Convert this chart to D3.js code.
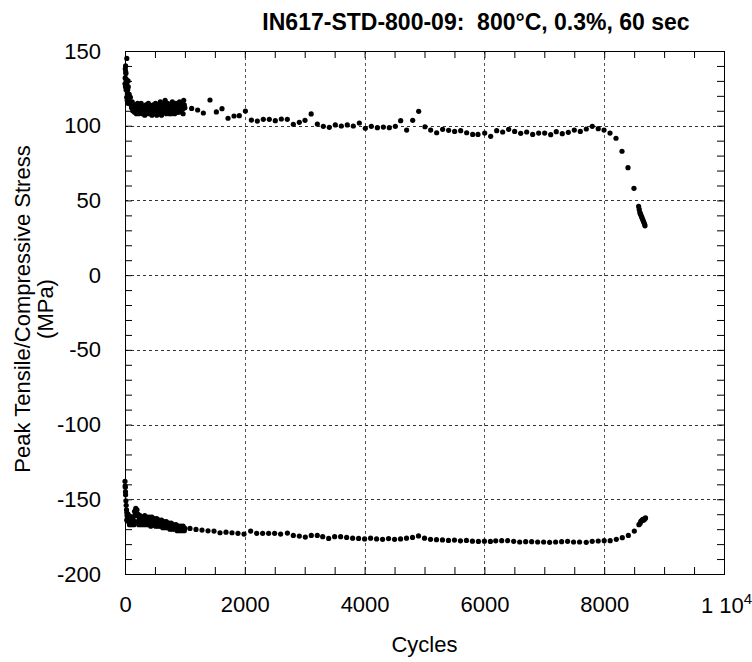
<!DOCTYPE html>
<html>
<head>
<meta charset="utf-8">
<script src="https://cdn.jsdelivr.net/npm/d3@7"></script>
<style>
  body { margin: 0; background: #fff; }
  svg text { font-family: "Liberation Sans", Arial, sans-serif; }
</style>
</head>
<body>
<div id="vis"></div>
<script>
const WIDTH = 752;
const HEIGHT = 662;
const MARGINS = {left: 125, right: 28, top: 51, bottom: 88};
const FONT = 22;

// peak tensile stress, [cycle, MPa]
const tensile = [
  [0,128],[3,132],[5,138],[8,126],[10,140],[12,136],[15,135],[18,124],[20,130],[22,131],
  [25,128],[28,119],[30,145],[33,127],[35,125],[38,117],[40,122],[42,121],[45,124],[48,115],
  [50,120],[52,130],[55,126],[60,118],[70,121],[80,116],[90,119],[100,114],[110,112],[120,116],
  [130,110],[140,113],[150,111],[160,109],[170,114],[180,112],[190,108],[200,112],[210,115],
  [220,110],[230,108],[240,113],[250,111],[260,109],[270,115],[280,111],[290,108],[300,113],
  [310,112],[320,110],[330,107],[340,112],[350,114],[360,108],[370,109],[380,111],[390,115],
  [400,113],[410,108],[420,110],[430,112],[440,111],[450,107],[460,109],[470,114],[480,111],
  [490,109],[500,112],[510,115],[520,110],[530,107],[540,108],[550,113],[560,111],[570,109],
  [580,114],[590,116],[600,111],[610,107],[620,109],[630,114],[640,112],[650,110],[660,115],
  [670,117],[680,110],[690,108],[700,112],[710,115],[720,113],[730,110],[740,108],[750,114],
  [760,111],[770,108],[780,113],[790,116],[800,112],[810,113],[820,110],[830,108],[840,113],
  [850,115],[860,111],[870,109],[880,114],[890,112],[900,109],[910,116],[920,112],[930,110],
  [940,113],[950,115],[960,111],[970,108],[980,117],[990,114],[1000,112],
  [1113,111.6],[1213,110.5],[1308,108.5],[1419,117.2],[1525,109.2],[1619,111.4],[1720,105],
  [1820,106.5],[1908,106.7],[2010,109.8],[2110,103.8],[2209,103.1],[2309,104.3],[2409,104.3],
  [2509,103.4],[2610,104.5],[2710,104.3],[2810,100.9],[2910,102.3],[3005,103.6],[3108,107.9],
  [3211,101.1],[3311,99.6],[3411,98.9],[3511,100.5],[3611,99.8],[3711,100.5],[3811,99.8],
  [3912,101.8],[4012,98.3],[4112,99.6],[4213,98.7],[4313,99.1],[4413,98.7],[4513,99.6],
  [4602,103.4],[4702,97.1],[4803,103.6],[4903,109.6],[5008,99.3],[5103,97.1],[5203,95.3],
  [5303,97.6],[5403,96.9],[5503,96.2],[5604,96.7],[5704,95.3],[5804,94.2],[5893,94.2],
  [6005,95.1],[6105,92.9],[6205,96.7],[6305,95.8],[6405,97.6],[6505,96.2],[6606,94.9],
  [6706,95.8],[6806,94.2],[6906,95.1],[7006,95.1],[7107,94],[7200,96],[7300,94.7],[7401,95.6],
  [7501,97.1],[7601,96.2],[7701,97.8],[7801,99.6],[7901,98],[7997,97.1],[8097,95.1],[8197,91.6],
  [8297,82.9],[8397,71.9],[8497,58.1],
  [8575,46],[8585,44],[8595,42],[8605,41],[8615,40],[8625,39],[8635,38],[8645,37],[8655,36],
  [8665,35],[8675,34],[8681,33]
];

// peak compressive stress, [cycle, MPa]
const compressive = [
  [0,-138],[3,-141],[5,-142],[8,-145],[10,-147],[15,-151],[20,-154],[25,-157],[30,-159],[30,-164],
  [35,-161],[40,-163],[45,-160],[50,-164],[50,-160],[60,-165],[60,-161],[70,-162],[75,-167],
  [80,-166],[90,-163],[100,-165],[110,-167],[120,-162],[130,-166],[140,-164],[150,-167],[160,-158],
  [170,-160],[180,-156],[190,-161],[200,-157],[210,-165],[220,-160],[230,-167],[240,-163],
  [250,-161],[260,-164],[270,-167],[280,-162],[290,-166],[300,-165],[310,-167],[320,-163],
  [330,-161],[340,-166],[350,-167],[360,-164],[370,-162],[380,-165],[390,-167],[400,-163],
  [410,-162],[420,-166],[430,-168],[440,-164],[450,-162],[460,-165],[470,-167],[480,-166],
  [490,-163],[500,-164],[510,-168],[520,-166],[530,-163],[540,-165],[550,-168],[560,-167],
  [570,-164],[580,-165],[590,-168],[600,-166],[610,-164],[620,-167],[630,-169],[640,-166],
  [650,-165],[660,-167],[670,-169],[680,-166],[690,-165],[700,-168],[710,-169],[720,-167],
  [730,-166],[740,-168],[750,-170],[760,-167],[770,-166],[780,-168],[790,-170],[800,-168],
  [810,-167],[820,-169],[830,-170],[840,-168],[850,-167],[860,-169],[870,-171],[880,-168],
  [890,-168],[900,-169],[910,-171],[920,-169],[930,-168],[940,-170],[950,-171],[960,-169],
  [970,-168],[980,-170],[990,-171],[1000,-169.5],
  [1085,-169.5],[1185,-170.2],[1285,-170.6],[1386,-171.1],[1486,-171.3],[1586,-172.4],[1686,-172],
  [1786,-172.4],[1886,-172.8],[1987,-173.3],[2098,-171.3],[2198,-172.8],[2298,-172.8],[2398,-172.8],
  [2498,-172.8],[2598,-173.3],[2711,-172.6],[2810,-174.2],[2910,-174.6],[3010,-175.3],[3110,-174.2],
  [3210,-174.2],[3300,-175],[3400,-176.2],[3500,-175],[3600,-175],[3700,-175.5],[3800,-176],
  [3900,-176.2],[4000,-176.5],[4100,-176],[4200,-176.5],[4300,-176.8],[4400,-176.3],[4500,-176.8],
  [4600,-176.5],[4700,-176],[4800,-175.5],[4900,-174.5],[5000,-176],[5100,-176.8],[5200,-177],
  [5300,-177.2],[5400,-177.5],[5500,-177.3],[5600,-177.8],[5700,-177.5],[5800,-178],[5900,-178.2],
  [6000,-178],[6100,-178.2],[6189,-177.8],[6289,-177.7],[6389,-177.7],[6489,-178.1],[6589,-178.6],
  [6689,-178.4],[6789,-178.4],[6889,-178.6],[6989,-178.6],[7089,-178.8],[7189,-178.6],[7289,-178.4],
  [7389,-178.1],[7489,-178.6],[7589,-178.6],[7700,-178.8],[7800,-178.1],[7900,-177.9],[8000,-177.7],
  [8100,-177.7],[8202,-176.8],[8302,-175.7],[8403,-174.2],[8503,-171.3],
  [8580,-167],[8598,-166.2],[8610,-165],[8620,-164.5],[8636,-164],[8645,-163.5],[8655,-164],
  [8670,-163.5],[8680,-163],[8690,-162.5]
];

const xMajor = [0, 2000, 4000, 6000, 8000, 10000];
const yMajor = [150, 100, 50, 0, -50, -100, -150, -200];
const xMinor = d3.range(0, 10001, 500);
const yMinor = d3.range(-200, 151, 10);

const svg = d3.select("#vis")
  .append("svg")
    .attr("width", WIDTH)
    .attr("height", HEIGHT);

svg.append("rect").attr("width", WIDTH).attr("height", HEIGHT).attr("fill", "#fff");

const x = d3.scaleLinear().domain([0, 10000]).range([MARGINS.left, WIDTH - MARGINS.right]);
const y = d3.scaleLinear().domain([-200, 150]).range([HEIGHT - MARGINS.bottom, MARGINS.top]);

const plotW = x(10000) - x(0);
const plotH = y(-200) - y(150);

// dashed grid at the major ticks
svg.append("g").selectAll("line")
  .data(xMajor.slice(1, -1))
  .join("line")
    .attr("x1", d => Math.round(x(d)) + 0.5).attr("x2", d => Math.round(x(d)) + 0.5)
    .attr("y1", y(150)).attr("y2", y(-200))
    .attr("stroke", "#555").attr("stroke-dasharray", "3,3");
svg.append("g").selectAll("line")
  .data(yMajor.slice(1, -1))
  .join("line")
    .attr("y1", d => Math.round(y(d)) + 0.5).attr("y2", d => Math.round(y(d)) + 0.5)
    .attr("x1", x(0)).attr("x2", x(10000))
    .attr("stroke", "#333").attr("stroke-dasharray", "3,3");

// ticks pointing inward on all four sides
const tickLen = 7;
function noLabels(g) { g.selectAll("text").remove(); g.select(".domain").remove(); }

svg.append("g").attr("transform", `translate(0,${y(-200)})`)
  .call(d3.axisBottom(x).tickValues(xMinor).tickSize(-tickLen)).call(noLabels);
svg.append("g").attr("transform", `translate(0,${y(150)})`)
  .call(d3.axisTop(x).tickValues(xMinor).tickSize(-tickLen)).call(noLabels);
svg.append("g").attr("transform", `translate(${x(0)},0)`)
  .call(d3.axisLeft(y).tickValues(yMinor).tickSize(-tickLen)).call(noLabels);
svg.append("g").attr("transform", `translate(${x(10000)},0)`)
  .call(d3.axisRight(y).tickValues(yMinor).tickSize(-tickLen)).call(noLabels);

// tick labels
const xLab = svg.append("g").attr("transform", `translate(0,${y(-200)})`)
  .call(d3.axisBottom(x).tickValues(xMajor).tickSize(0).tickPadding(22)
    .tickFormat(d => d === 10000 ? "" : String(d)));
xLab.select(".domain").remove();
xLab.selectAll("text").attr("font-size", FONT).attr("fill", "#000")
  .attr("font-family", "Liberation Sans, Arial, sans-serif");

const sci = svg.append("text")
  .attr("x", 701).attr("y", 613)
  .attr("font-size", FONT);
sci.append("tspan").text("1 10");
sci.append("tspan").attr("dy", -9).attr("font-size", 15).text("4");

const yLab = svg.append("g").attr("transform", `translate(${x(0)},0)`)
  .call(d3.axisLeft(y).tickValues(yMajor).tickSize(0).tickPadding(24)
    .tickFormat(d => String(d)));
yLab.select(".domain").remove();
yLab.selectAll("text").attr("font-size", FONT).attr("fill", "#000")
  .attr("font-family", "Liberation Sans, Arial, sans-serif");

// frame
svg.append("rect")
  .attr("x", x(0) + 0.5).attr("y", y(150) + 0.5)
  .attr("width", plotW).attr("height", plotH)
  .attr("fill", "none").attr("stroke", "#000");

// points
const series = [tensile, compressive];
svg.append("g").selectAll("g")
  .data(series)
  .join("g")
  .selectAll("circle")
  .data(d => d)
  .join("circle")
    .attr("cx", d => x(d[0]))
    .attr("cy", d => y(d[1]))
    .attr("r", 2.6)
    .attr("fill", "#000");

// titles
svg.append("text")
  .attr("x", 476).attr("y", 30)
  .attr("text-anchor", "middle")
  .attr("font-size", 23).attr("font-weight", "bold")
  .style("white-space", "pre")
  .text("IN617-STD-800-09:  800\u00B0C, 0.3%, 60 sec");

svg.append("text")
  .attr("x", (x(0) + x(10000)) / 2).attr("y", 652)
  .attr("text-anchor", "middle").attr("font-size", FONT)
  .text("Cycles");

const cy = 309;
svg.append("text")
  .attr("transform", `translate(30,${cy}) rotate(-90)`)
  .attr("text-anchor", "middle").attr("font-size", FONT)
  .text("Peak Tensile/Compressive Stress");
svg.append("text")
  .attr("transform", `translate(53,${cy}) rotate(-90)`)
  .attr("text-anchor", "middle").attr("font-size", FONT)
  .text("(MPa)");
</script>
</body>
</html>
